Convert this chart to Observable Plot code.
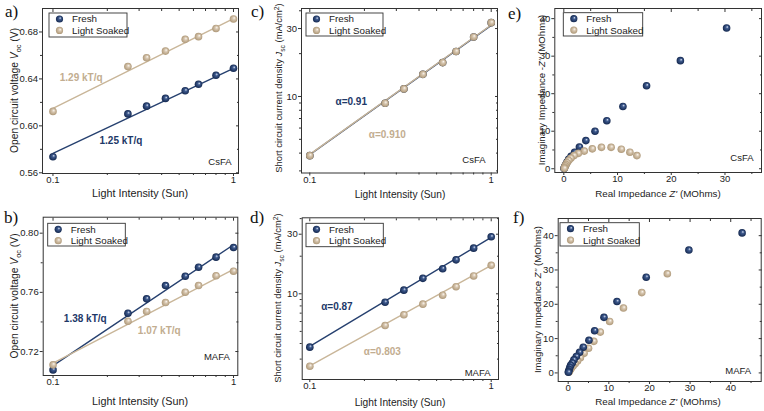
<!DOCTYPE html>
<html><head><meta charset="utf-8">
<script src="https://cdn.jsdelivr.net/npm/d3@7"></script>
<script src="https://cdn.jsdelivr.net/npm/@observablehq/plot@0.6"></script>
<style>
body{margin:0;background:#fff;}
#wrap{position:relative;width:764px;height:411px;overflow:hidden;font-family:"Liberation Sans",Arial,sans-serif;}
.panel{position:absolute;}
#overlay{position:absolute;left:0;top:0;pointer-events:none;}
</style></head>
<body><div id="wrap">
<svg width="0" height="0" style="position:absolute">
<defs>
<radialGradient id="gN" cx="0.5" cy="0.5" r="0.5" fx="0.62" fy="0.35">
<stop offset="0" stop-color="#dfe6f3"/><stop offset="0.35" stop-color="#3f5b8f"/><stop offset="1" stop-color="#14284f"/>
</radialGradient>
<radialGradient id="gT" cx="0.5" cy="0.5" r="0.5" fx="0.62" fy="0.35">
<stop offset="0" stop-color="#fbf7f1"/><stop offset="0.4" stop-color="#d6c5ae"/><stop offset="1" stop-color="#ae9878"/>
</radialGradient>
</defs></svg>
</div>
<script>
// ---------- data ----------
const LIGHT = [0.1, 0.26, 0.33, 0.42, 0.54, 0.64, 0.8, 1.0];
const FIT_X = [0.1, 1];
const LIGHT_MAJOR = [0.1, 1];
const LIGHT_MINOR = [0.2, 0.3, 0.4, 0.5, 0.6, 0.7, 0.8, 0.9];

// a) CsFA Voc
const vocCsFAFresh  = [0.5737, 0.6102, 0.6168, 0.6234, 0.6299, 0.6354, 0.6431, 0.6491];
const vocCsFASoaked = [0.6123, 0.6505, 0.6580, 0.6637, 0.6737, 0.6760, 0.6830, 0.6911];
const fitVocCsFAFresh  = [0.5766, 0.6490];
const fitVocCsFASoaked = [0.6149, 0.6913];
const vocCsFATicks = [0.56, 0.60, 0.64, 0.68];
const vocCsFAMinor = [0.58, 0.62, 0.66];

// b) MAFA Voc
const vocMAFAFresh  = [0.7076, 0.7459, 0.7556, 0.7646, 0.7709, 0.7770, 0.7838, 0.7903];
const vocMAFASoaked = [0.7110, 0.7405, 0.7471, 0.7531, 0.7601, 0.7646, 0.7712, 0.7743];
const fitVocMAFAFresh  = [0.7105, 0.7922];
const fitVocMAFASoaked = [0.7121, 0.7755];
const vocMAFATicks = [0.72, 0.76, 0.80];
const vocMAFAMinor = [0.74, 0.78];

// c) CsFA Jsc
const jscCsFAFresh  = [3.84, 8.97, 11.3, 14.3, 17.3, 20.7, 26.2, 33.0];
const jscCsFASoaked = [3.84, 8.97, 11.3, 14.3, 17.3, 20.7, 26.2, 33.0];
const fitJscCsFAFresh  = [3.90, 31.6];
const fitJscCsFASoaked = [3.92, 31.8];
// d) MAFA Jsc
const jscMAFAFresh  = [3.74, 8.56, 10.7, 13.3, 15.85, 18.7, 23.2, 28.6];
const jscMAFASoaked = [2.63, 5.57, 6.79, 8.26, 9.75, 11.4, 13.9, 16.9];
const fitJscMAFAFresh  = [3.80, 28.3];
const fitJscMAFASoaked = [2.65, 16.9];
const jscTicks = [10, 30];
const jscMinor = [3, 4, 5, 6, 7, 8, 9, 20, 40];

// e) CsFA impedance
const eisCsFAFreshRe  = [30.3, 21.7, 15.4, 11.0, 8.0, 5.8, 4.1, 2.9, 2.0, 1.35, 0.9, 0.6, 0.4, 0.25, 0.15, 0.08, 0.04];
const eisCsFAFreshIm  = [37.5, 28.8, 22.1, 16.6, 12.8, 10.0, 7.5, 5.8, 4.4, 3.3, 2.5, 1.8, 1.2, 0.8, 0.45, 0.2, 0.05];
const eisCsFASoakedRe = [13.6, 12.3, 10.7, 8.8, 7.0, 5.3, 3.8, 2.7, 1.9, 1.3, 0.9, 0.6, 0.4, 0.25, 0.15, 0.08];
const eisCsFASoakedIm = [3.5, 4.4, 5.2, 5.7, 5.7, 5.3, 4.7, 4.1, 3.5, 2.8, 2.2, 1.6, 1.1, 0.7, 0.35, 0.1];
// f) MAFA impedance
const eisMAFAFreshRe  = [42.8, 29.7, 19.2, 12.0, 8.8, 6.5, 5.1, 3.7, 2.8, 2.0, 1.4, 1.0, 0.6, 0.4, 0.25, 0.1, 0.05];
const eisMAFAFreshIm  = [40.8, 35.8, 27.9, 20.8, 16.2, 12.3, 9.5, 7.5, 6.0, 4.8, 3.8, 2.9, 2.2, 1.6, 1.0, 0.5, 0.2];
const eisMAFASoakedRe = [24.4, 18.1, 13.6, 10.2, 7.9, 6.3, 5.0, 3.9, 3.0, 2.3, 1.7, 1.2, 0.8, 0.5, 0.3, 0.15];
const eisMAFASoakedIm = [28.9, 23.4, 18.9, 15.0, 11.9, 9.2, 7.2, 5.7, 4.4, 3.5, 2.7, 2.0, 1.4, 0.9, 0.5, 0.2];
const eisTicks = [0, 10, 20, 30, 40];

const seriesNames = ["Fresh", "Light Soaked"];
const NAVY = "#1d3868", TAN = "#c8b497";
const LINE_NAVY = "#26406f", LINE_TAN = "#c9b699";

// ---------- helpers ----------
const rows = (xs, ys) => xs.map((x, i) => ({x, y: ys[i]}));
const FONT = "'Liberation Sans', Arial, sans-serif";
const TXT = "#222";

function richText(sel, parts, size) {
  let shift = 0;
  for (const [t, s] of parts) {
    const ts = sel.append("tspan").text(t);
    const target = s === "sub" ? size * 0.3 : s === "sup" ? -size * 0.4 : 0;
    if (target !== shift) { ts.attr("dy", target - shift); shift = target; }
    if (s === "sub" || s === "sup") ts.attr("font-size", size * 0.72);
    if (s === "i") ts.attr("font-style", "italic");
  }
}

function panel(cfg) {
  const {left, top, width, height, mt, mr, mb, ml, x, y, series, fits, notes, site, siteDx, siteDy, legend, xTitle, yTitle, titleSize, yTitleSize} = cfg;
  const marks = [
    Plot.frame({stroke: "#333", strokeWidth: 1}),
    Plot.axisX(x.ticks, {tickSize: 3, tickPadding: 0, tickFormat: x.format, fontSize: 9.5, fill: TXT, stroke: "#333", label: null}),
    Plot.axisX(x.minor, {tickSize: 2, fill: "none", stroke: "#333", label: null}),
    Plot.axisX(x.ticks, {anchor: "top", tickSize: -3, fill: "none", stroke: "#333", label: null}),
    Plot.axisX(x.minor, {anchor: "top", tickSize: -2, fill: "none", stroke: "#333", label: null}),
    Plot.axisY(y.ticks, {tickSize: 3, tickPadding: 1.5, tickFormat: y.format, fontSize: 9.5, fill: TXT, stroke: "#333", label: null}),
    Plot.axisY(y.minor, {tickSize: 2, fill: "none", stroke: "#333", label: null}),
    Plot.axisY(y.ticks, {anchor: "right", tickSize: -3, fill: "none", stroke: "#333", label: null}),
    Plot.axisY(y.minor, {anchor: "right", tickSize: -2, fill: "none", stroke: "#333", label: null})
  ];
  for (const f of (fits || [])) marks.push(Plot.line(rows(FIT_X, f.y), {x: "x", y: "y", stroke: f.color, strokeWidth: 1.4}));
  for (const s of series) marks.push(Plot.dot(rows(s.x, s.y), {x: "x", y: "y", r: 3.8, fill: s.grad, stroke: "none"}));
  for (const n of (notes || [])) marks.push(Plot.text([n], {x: "x", y: "y", text: "t", fill: n.color, fontWeight: "bold", fontSize: 10, textAnchor: "start", fontFamily: FONT}));
  marks.push(Plot.text([site], {frameAnchor: "bottom-right", text: d => d, dx: siteDx, dy: siteDy, textAnchor: "end", lineAnchor: "middle", fontSize: 9.5, fill: TXT, fontFamily: FONT}));

  const svg = Plot.plot({
    width, height, marginTop: mt, marginRight: mr, marginBottom: mb, marginLeft: ml,
    style: {fontFamily: FONT, background: "transparent", overflow: "visible"},
    x: {type: x.type, domain: x.domain, label: null},
    y: {type: y.type, domain: y.domain, label: null},
    marks
  });
  const div = document.createElement("div");
  div.className = "panel";
  div.style.left = left + "px"; div.style.top = top + "px";
  div.appendChild(svg);
  document.getElementById("wrap").appendChild(div);

  const s = d3.select(svg);
  // legend
  const L = legend;
  const g = s.append("g").attr("text-anchor", "start");
  g.append("rect").attr("x", L.x).attr("y", L.y).attr("width", L.w).attr("height", L.h)
    .attr("fill", "white").attr("stroke", "#333").attr("stroke-width", 0.9);
  [["url(#gN)", seriesNames[0]], ["url(#gT)", seriesNames[1]]].forEach(([fill, name], i) => {
    const cy = L.y + 6 + i * 11.4;
    g.append("circle").attr("cx", L.x + 10.5).attr("cy", cy).attr("r", 3.6).attr("fill", fill);
    g.append("text").attr("x", L.x + 23).attr("y", cy).attr("dy", "0.35em").attr("text-anchor", "start")
      .attr("font-size", 9.8).attr("fill", TXT).attr("font-family", FONT).text(name);
  });
  // axis titles
  const tx = s.append("text").attr("x", xTitle.x).attr("y", xTitle.y).attr("dy", "0.35em")
    .attr("text-anchor", "middle").attr("font-size", titleSize).attr("fill", TXT).attr("font-family", FONT);
  richText(tx, xTitle.parts, titleSize);
  const ys = yTitleSize || titleSize;
  const ty = s.append("text").attr("transform", `translate(${yTitle.x},${yTitle.y}) rotate(-90)`).attr("dy", "0.35em")
    .attr("text-anchor", "middle").attr("font-size", ys).attr("fill", TXT).attr("font-family", FONT);
  richText(ty, yTitle.parts, ys);
}

const fmtLight = d => String(d);
const fmt2 = d => d.toFixed(2);
const fmt0 = d => String(d);
const lightTitle = [["Light Intensity (Sun)"]];
const vocTitle = [["Open circuit voltage "], ["V", "i"], ["oc", "sub"], [" (V)"]];
const jscTitle = [["Short circuit current density "], ["J", "i"], ["sc", "sub"], [" (mA/cm"], ["2", "sup"], [")"]];
const reTitle = [["Real Impedance "], ["Z'", "i"], [" (MOhms)"]];

// a)
panel({left: 0, top: 0, width: 250, height: 200, mt: 8, mr: 12, mb: 27, ml: 42,
  x: {type: "log", domain: [0.0875, 1.066], ticks: LIGHT_MAJOR, minor: LIGHT_MINOR, format: fmtLight},
  y: {type: "linear", domain: [0.5594, 0.700], ticks: vocCsFATicks, minor: vocCsFAMinor, format: fmt2},
  fits: [{y: fitVocCsFAFresh, color: LINE_NAVY}, {y: fitVocCsFASoaked, color: LINE_TAN}],
  series: [{x: LIGHT, y: vocCsFAFresh, grad: "url(#gN)"}, {x: LIGHT, y: vocCsFASoaked, grad: "url(#gT)"}],
  notes: [{x: 0.109, y: 0.641, t: "1.29 kT/q", color: "#c2ad90"}, {x: 0.181, y: 0.5874, t: "1.25 kT/q", color: NAVY}],
  site: "CsFA", siteDx: -7, siteDy: -12,
  legend: {x: 49, y: 13, w: 78, h: 24},
  xTitle: {x: 140, y: 193.5, parts: lightTitle}, yTitle: {x: 14, y: 90.5, parts: vocTitle}, titleSize: 10.8, yTitleSize: 10.3});

// c)
panel({left: 250, top: 0, width: 250, height: 200, mt: 8, mr: 3, mb: 27.5, ml: 51,
  x: {type: "log", domain: [0.09, 1.083], ticks: LIGHT_MAJOR, minor: LIGHT_MINOR, format: fmtLight},
  y: {type: "log", domain: [2.90, 41.5], ticks: jscTicks, minor: jscMinor, format: fmt0},
  fits: [{y: fitJscCsFAFresh, color: LINE_NAVY}, {y: fitJscCsFASoaked, color: LINE_TAN}],
  series: [{x: LIGHT, y: jscCsFAFresh, grad: "url(#gN)"}, {x: LIGHT, y: jscCsFASoaked, grad: "url(#gT)"}],
  notes: [{x: 0.1386, y: 9.12, t: "α=0.91", color: NAVY}, {x: 0.2115, y: 5.38, t: "α=0.910", color: "#c2ad90"}],
  site: "CsFA", siteDx: -12, siteDy: -13.5,
  legend: {x: 56, y: 13, w: 77, h: 23},
  xTitle: {x: 150, y: 194, parts: lightTitle}, yTitle: {x: 29, y: 88, parts: jscTitle}, titleSize: 10.2, yTitleSize: 9.4});

// e)
panel({left: 500, top: 0, width: 264, height: 200, mt: 8, mr: 3, mb: 28, ml: 54.3,
  x: {type: "linear", domain: [-1.68, 36.8], ticks: [0, 10, 20, 30], minor: [5, 15, 25, 35], format: fmt0},
  y: {type: "linear", domain: [-1.0, 42.7], ticks: eisTicks, minor: [5, 15, 25, 35], format: fmt0},
  series: [{x: eisCsFAFreshRe, y: eisCsFAFreshIm, grad: "url(#gN)"}, {x: eisCsFASoakedRe, y: eisCsFASoakedIm, grad: "url(#gT)"}],
  site: "CsFA", siteDx: -8, siteDy: -15,
  legend: {x: 63.3, y: 12.7, w: 79.4, h: 23.3},
  xTitle: {x: 158, y: 193.3, parts: reTitle}, yTitle: {x: 41.7, y: 90, parts: [["Imaginary Impedance -"], ["Z''", "i"], [" (MOhms)"]]}, titleSize: 9.8, yTitleSize: 9.6});

// b)
panel({left: 0, top: 200, width: 250, height: 211, mt: 16.7, mr: 12.7, mb: 36, ml: 42.7,
  x: {type: "log", domain: [0.0882, 1.056], ticks: LIGHT_MAJOR, minor: LIGHT_MINOR, format: fmtLight},
  y: {type: "linear", domain: [0.7038, 0.8108], ticks: vocMAFATicks, minor: vocMAFAMinor, format: fmt2},
  fits: [{y: fitVocMAFAFresh, color: LINE_NAVY}, {y: fitVocMAFASoaked, color: LINE_TAN}],
  series: [{x: LIGHT, y: vocMAFAFresh, grad: "url(#gN)"}, {x: LIGHT, y: vocMAFASoaked, grad: "url(#gT)"}],
  notes: [{x: 0.1148, y: 0.7421, t: "1.38 kT/q", color: NAVY}, {x: 0.295, y: 0.7337, t: "1.07 kT/q", color: "#c2ad90"}],
  site: "MAFA", siteDx: -8, siteDy: -19,
  legend: {x: 47.7, y: 23.3, w: 77.6, h: 22.7},
  xTitle: {x: 140, y: 201.7, parts: lightTitle}, yTitle: {x: 14, y: 96, parts: vocTitle}, titleSize: 10.8, yTitleSize: 10.3});

// d)
panel({left: 250, top: 200, width: 250, height: 211, mt: 17.3, mr: 2, mb: 32, ml: 51.7,
  x: {type: "log", domain: [0.0908, 1.097], ticks: LIGHT_MAJOR, minor: LIGHT_MINOR, format: fmtLight},
  y: {type: "log", domain: [2.06, 40.6], ticks: jscTicks, minor: jscMinor, format: fmt0},
  fits: [{y: fitJscMAFAFresh, color: LINE_NAVY}, {y: fitJscMAFASoaked, color: LINE_TAN}],
  series: [{x: LIGHT, y: jscMAFAFresh, grad: "url(#gN)"}, {x: LIGHT, y: jscMAFASoaked, grad: "url(#gT)"}],
  notes: [{x: 0.1155, y: 7.91, t: "α=0.87", color: NAVY}, {x: 0.1986, y: 3.45, t: "α=0.803", color: "#c2ad90"}],
  site: "MAFA", siteDx: -8, siteDy: -7,
  legend: {x: 56, y: 23.3, w: 77.3, h: 23.4},
  xTitle: {x: 150, y: 202.3, parts: lightTitle}, yTitle: {x: 28, y: 98, parts: jscTitle}, titleSize: 10.2, yTitleSize: 9.4});

// f)
panel({left: 500, top: 200, width: 264, height: 211, mt: 18, mr: 3.3, mb: 30, ml: 57.7,
  x: {type: "linear", domain: [-2.46, 47.5], ticks: eisTicks, minor: [5, 15, 25, 35, 45], format: fmt0},
  y: {type: "linear", domain: [-2.5, 45], ticks: eisTicks, minor: [5, 15, 25, 35], format: fmt0},
  series: [{x: eisMAFASoakedRe, y: eisMAFASoakedIm, grad: "url(#gT)"}, {x: eisMAFAFreshRe, y: eisMAFAFreshIm, grad: "url(#gN)"}],
  site: "MAFA", siteDx: -10, siteDy: -11,
  legend: {x: 60, y: 22.7, w: 79.3, h: 23.3},
  xTitle: {x: 158, y: 201.7, parts: reTitle}, yTitle: {x: 38, y: 99.5, parts: [["Imaginary Impedance "], ["Z''", "i"], [" (MOhms)"]]}, titleSize: 9.8, yTitleSize: 9.6});

// panel letters
const letters = [["a)", 5, 17], ["c)", 251, 17], ["e)", 508, 19], ["b)", 4, 223], ["d)", 250, 223], ["f)", 513, 223]];
const ov = d3.select("#wrap").append("svg").attr("id", "overlay").attr("width", 764).attr("height", 411);
for (const [t, x, y] of letters) ov.append("text").attr("x", x).attr("y", y)
  .attr("font-family", "'Liberation Serif','Times New Roman',serif").attr("font-size", 17).attr("fill", "#111").text(t);
</script>
</body></html>
